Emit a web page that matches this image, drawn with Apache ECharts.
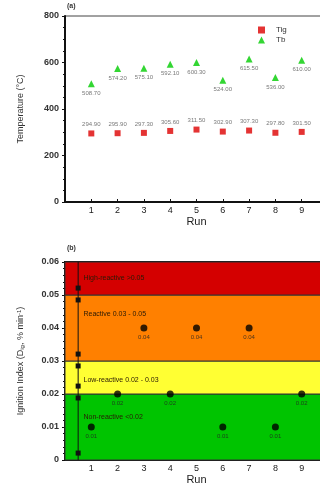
<!DOCTYPE html>
<html>
<head>
<meta charset="utf-8">
<script src="https://cdn.jsdelivr.net/npm/echarts@6/dist/echarts.min.js"></script>
<style>
  html, body { margin: 0; padding: 0; background: #fff; }
  #chart { width: 320px; height: 485px; }
</style>
</head>
<body>
<div id="chart"></div>
<script>
// runs shared by both panels
const runs = [1, 2, 3, 4, 5, 6, 7, 8, 9];
// (a) temperatures
const tigValues = [294.9, 295.9, 297.3, 305.6, 311.5, 302.9, 307.3, 297.8, 301.5];
const tbValues = [508.7, 574.2, 575.1, 592.1, 600.3, 524.0, 615.5, 536.0, 610.0];
// (b) ignition index
const digValues = [0.01, 0.02, 0.04, 0.02, 0.04, 0.01, 0.04, 0.01, 0.02];
// band limits and names
const bandLimits = [0, 0.02, 0.03, 0.05, 0.06];
const bandNames = ['Non-reactive <0.02', 'Low-reactive 0.02 - 0.03', 'Reactive 0.03 - 0.05', 'High-reactive >0.05'];
const bandColors = ['#00c400', '#ffff33', '#ff8000', '#d40000'];
// squares on the vertical range line at x = 0.5
const rangeMarks = [0.0021, 0.0188, 0.0224, 0.0285, 0.0321, 0.0485, 0.0521];

const FONT = 'Liberation Sans';
const AXIS_COLOR = '#111';

function xAxisCfg(gridIndex) {
  return {
    gridIndex: gridIndex,
    type: 'value',
    min: 0,
    max: 10,
    interval: 1,
    name: 'Run',
    nameLocation: 'middle',
    nameGap: 14,
    nameTextStyle: { fontFamily: FONT, fontSize: 11, color: '#222' },
    axisLine: { onZero: false, lineStyle: { color: AXIS_COLOR, width: 2 } },
    axisTick: { inside: true, length: 3, lineStyle: { color: AXIS_COLOR } },
    axisLabel: {
      fontFamily: FONT, fontSize: 9, color: '#222', margin: 4,
      formatter: v => (v >= 1 && v <= 9 ? String(v) : ''),
    },
    splitLine: { show: false },
  };
}

function yAxisCfg(gridIndex, min, max, interval, name, fmt, minorSplit) {
  return {
    gridIndex: gridIndex,
    type: 'value',
    min: min,
    max: max,
    interval: interval,
    name: name,
    nameLocation: 'middle',
    nameGap: 40,
    nameTextStyle: {
      fontFamily: FONT, fontSize: 9, color: '#333',
      rich: {
        sub: { fontSize: 6, verticalAlign: 'bottom', color: '#333' },
        sup: { fontSize: 6, verticalAlign: 'top', color: '#333' },
      },
    },
    axisLine: { show: true, lineStyle: { color: AXIS_COLOR, width: 2 } },
    axisTick: { show: true, length: 3, lineStyle: { color: AXIS_COLOR } },
    minorTick: { show: true, splitNumber: minorSplit, length: 2, lineStyle: { color: AXIS_COLOR } },
    axisLabel: { fontFamily: FONT, fontSize: 9, fontWeight: 'bold', color: '#333', margin: 6, formatter: fmt },
    splitLine: { show: false },
  };
}

const bandAreas = bandNames.map((name, i) => [
  {
    name: name,
    yAxis: bandLimits[i],
    itemStyle: { color: bandColors[i] },
    label: { offset: [14, [15, 11, 11, 8][i]] },
  },
  { yAxis: bandLimits[i + 1] },
]);

const option = {
  animation: false,
  backgroundColor: '#fff',
  title: [
    { text: '(a)', left: 62, top: -2, textStyle: { fontFamily: FONT, fontSize: 7, fontWeight: 'bold', color: '#333' } },
    { text: '(b)', left: 62, top: 240, textStyle: { fontFamily: FONT, fontSize: 7, fontWeight: 'bold', color: '#333' } },
  ],
  legend: {
    data: ['Tig', 'Tb'],
    orient: 'vertical',
    left: 253,
    top: 21,
    itemWidth: 7,
    itemHeight: 7,
    itemGap: 2,
    textStyle: { fontFamily: FONT, fontSize: 8, color: '#333', padding: [0, 0, 0, 6] },
  },
  grid: [
    { left: 65, width: 263, top: 16, height: 186, outerBoundsMode: 'none', show: true, borderColor: '#444', borderWidth: 1 },
    { left: 65, width: 263, top: 262, height: 198, outerBoundsMode: 'none', show: true, borderColor: '#111', borderWidth: 2 },
  ],
  xAxis: [xAxisCfg(0), xAxisCfg(1)],
  yAxis: [
    yAxisCfg(0, 0, 800, 200, 'Temperature (°C)', v => String(v), 4),
    yAxisCfg(1, 0, 0.06, 0.01, 'Ignition Index (D{sub|ig}, % min{sup|-1})', v => (v === 0 ? '0' : v.toFixed(2)), 5),
  ],
  series: [
    {
      name: 'Tig',
      type: 'scatter',
      xAxisIndex: 0,
      yAxisIndex: 0,
      symbol: 'rect',
      symbolSize: 6,
      itemStyle: { color: '#dd0000' },
      label: {
        show: true, position: 'top', distance: 3, fontFamily: FONT, fontSize: 6, color: '#555',
        formatter: p => p.value[1].toFixed(2),
      },
      data: runs.map((r, i) => [r, tigValues[i]]),
      z: 5,
    },
    {
      name: 'Tb',
      type: 'scatter',
      xAxisIndex: 0,
      yAxisIndex: 0,
      symbol: 'triangle',
      symbolSize: 7,
      itemStyle: { color: '#00cc00' },
      label: {
        show: true, position: 'bottom', distance: 3, fontFamily: FONT, fontSize: 6, color: '#555',
        formatter: p => p.value[1].toFixed(2),
      },
      data: runs.map((r, i) => [r, tbValues[i]]),
      z: 5,
    },
    {
      name: 'bands',
      type: 'line',
      xAxisIndex: 1,
      yAxisIndex: 1,
      data: [],
      markArea: {
        silent: true,
        itemStyle: { borderColor: '#333', borderWidth: 1 },
        label: {
          position: 'insideTopLeft',
          fontFamily: FONT, fontSize: 7, color: '#2a1a05',
        },
        data: bandAreas,
      },
      z: 1,
    },
    {
      name: 'range',
      type: 'line',
      xAxisIndex: 1,
      yAxisIndex: 1,
      symbol: 'rect',
      symbolSize: 5,
      showAllSymbol: true,
      lineStyle: { color: '#111', width: 1 },
      itemStyle: { color: '#111' },
      data: [{ value: [0.5, 0], symbol: 'none' }]
        .concat(rangeMarks.map(v => [0.5, v]))
        .concat([{ value: [0.5, 0.06], symbol: 'none' }]),
      z: 4,
    },
    {
      name: 'Dig',
      type: 'scatter',
      xAxisIndex: 1,
      yAxisIndex: 1,
      symbol: 'circle',
      symbolSize: 7,
      itemStyle: { color: '#000' },
      label: {
        show: true, position: 'bottom', distance: 3, fontFamily: FONT, fontSize: 6, color: '#222',
        formatter: p => p.value[1].toFixed(2),
      },
      data: runs.map((r, i) => [r, digValues[i]]),
      z: 6,
    },
  ],
};

const chart = echarts.init(document.getElementById('chart'));
chart.setOption(option);
</script>
</body>
</html>
